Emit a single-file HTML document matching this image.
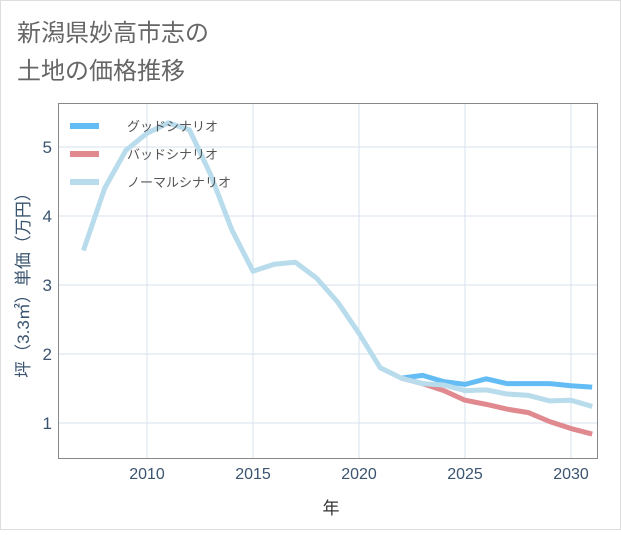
<!DOCTYPE html>
<html><head><meta charset="utf-8"><style>
body{margin:0;background:#fff}
#c{position:relative;width:621px;height:530px;font-family:"Liberation Sans","Noto Sans CJK JP",sans-serif;}
</style></head><body>
<div id="c">
<svg id="s" width="621" height="530" xmlns="http://www.w3.org/2000/svg">
<rect x="0.5" y="0.5" width="620" height="529" fill="#fff" stroke="#ddd"/>
<text x="17" y="41" font-size="24" fill="#666" font-family="Liberation Sans,Noto Sans CJK JP,sans-serif">新潟県妙高市志の</text>
<text x="17" y="79" font-size="24" fill="#666" font-family="Liberation Sans,Noto Sans CJK JP,sans-serif">土地の価格推移</text>
<g id="grid"></g>
<g id="lines"></g>
<rect x="58.5" y="103.5" width="539" height="355" fill="none" stroke="#888" stroke-width="1"/>
<g id="axes"></g>
<text x="331" y="514" font-size="17" fill="#333" text-anchor="middle">年</text>
<text transform="translate(29,281) rotate(-90)" font-size="17" fill="#3a5470" text-anchor="middle">坪（3.3㎡）単価（万円）</text>
<g>
<line x1="70" y1="126" x2="99" y2="126" stroke="#64bcf5" stroke-width="6"/>
<text x="127" y="131" font-size="13" fill="#555">グッドシナリオ</text>
<line x1="70" y1="154" x2="99" y2="154" stroke="#e08a90" stroke-width="6"/>
<text x="127" y="159" font-size="13" fill="#555">バッドシナリオ</text>
<line x1="70" y1="182" x2="99" y2="182" stroke="#b8dcec" stroke-width="6"/>
<text x="127" y="187" font-size="13" fill="#555">ノーマルシナリオ</text>
</g>
</svg>
</div>
<script>
const normalYears=[2007,2008,2009,2010,2011,2012,2013,2014,2015,2016,2017,2018,2019,2020,2021,2022,2023,2024,2025,2026,2027,2028,2029,2030,2031];
const normalValues=[3.5,4.4,4.95,5.2,5.35,5.25,4.6,3.8,3.2,3.3,3.33,3.1,2.75,2.3,1.8,1.65,1.57,1.55,1.47,1.48,1.42,1.40,1.32,1.33,1.24];
const scenYears=[2022,2023,2024,2025,2026,2027,2028,2029,2030,2031];
const goodValues=[1.65,1.69,1.6,1.56,1.64,1.57,1.57,1.57,1.54,1.52];
const badValues=[1.65,1.57,1.47,1.33,1.27,1.2,1.15,1.02,0.92,0.84];
const xTicks=[2010,2015,2020,2025,2030];
const yTicks=[1,2,3,4,5];
const NS="http://www.w3.org/2000/svg";
const X=y=>147+(y-2010)*21.2;
const Y=v=>423-(v-1)*69;
function mk(t,a,p){const e=document.createElementNS(NS,t);for(const k in a)e.setAttribute(k,a[k]);document.getElementById(p).appendChild(e);return e;}
xTicks.forEach(t=>{
 const l=mk('line',{x1:X(t),x2:X(t),y1:103,y2:458,stroke:'#d5e1ec','stroke-width':1},'grid');
 
 
 const tx=mk('text',{x:X(t),y:479,'font-size':16,fill:'#3a5470','text-anchor':'middle'},'axes');
 tx.textContent=t;
 
 
});
yTicks.forEach(t=>{
 const l=mk('line',{x1:58,x2:597,y1:Y(t),y2:Y(t),stroke:'#d5e1ec','stroke-width':1},'grid');
 
 
 const tx=mk('text',{x:52,y:Y(t)+6,'font-size':17,fill:'#3a5470','text-anchor':'end'},'axes');
 tx.textContent=t;
 
 
});
function pts(xs,vs){return xs.map((x,i)=>X(x)+','+Y(vs[i])).join(' ');}
const g=mk('polyline',{points:pts(scenYears,goodValues),fill:'none',stroke:'#64bcf5','stroke-width':5,'stroke-linejoin':'round'},'lines');


const b=mk('polyline',{points:pts(scenYears,badValues),fill:'none',stroke:'#e08a90','stroke-width':5,'stroke-linejoin':'round'},'lines');


const n=mk('polyline',{points:pts(normalYears,normalValues),fill:'none',stroke:'#b8dcec','stroke-width':5,'stroke-linejoin':'round'},'lines');


const cp=mk('clipPath',{id:'cl'},'s');
mk('rect',{x:58,y:103,width:539,height:355},'cl');
document.getElementById('lines').setAttribute('clip-path','url(#cl)');
</script>
</body></html>
